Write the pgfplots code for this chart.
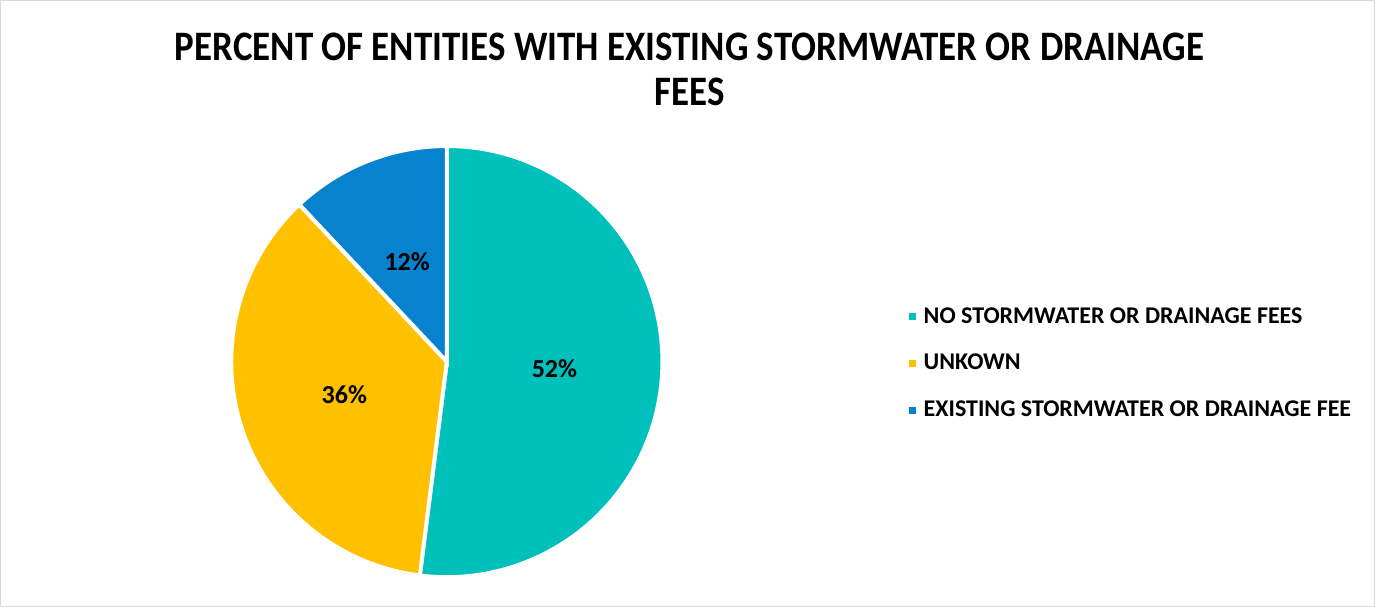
\documentclass[border=0pt]{standalone}
\usepackage{pgfplots}
\pgfplotsset{compat=1.18}
\usepackage{pgfplotstable}
\usepackage{fontspec}
\setmainfont{Carlito}
\newfontfamily\titlefont{Carlito}[FakeStretch=0.88]

\definecolor{cteal}{RGB}{0,192,187}
\definecolor{cyellow}{RGB}{255,192,0}
\definecolor{cblue}{RGB}{7,130,206}
\definecolor{frame}{RGB}{217,217,217}

\pgfplotstableread[col sep=comma]{
label,value
NO STORMWATER OR DRAINAGE FEES,52
UNKOWN,36
EXISTING STORMWATER OR DRAINAGE FEE,12
}\piedata

% slice values and angles (clockwise from 12 o'clock)
\pgfplotstablegetelem{0}{value}\of\piedata \let\va\pgfplotsretval
\pgfplotstablegetelem{1}{value}\of\piedata \let\vb\pgfplotsretval
\pgfplotstablegetelem{2}{value}\of\piedata \let\vc\pgfplotsretval
\pgfmathsetmacro\aA{90}
\pgfmathsetmacro\aB{\aA-3.6*\va}
\pgfmathsetmacro\aC{\aB-3.6*\vb}
\pgfmathsetmacro\aD{\aC-3.6*\vc}
\pgfmathsetmacro\mA{(\aA+\aB)/2}
\pgfmathsetmacro\mB{(\aB+\aC)/2}
\pgfmathsetmacro\mC{(\aC+\aD)/2}

\begin{document}
\begin{tikzpicture}
\begin{axis}[
  scale only axis, width=687.5bp, height=303.5bp,
  xmin=0, xmax=1375, ymin=0, ymax=607,
  hide axis, clip=false,
  legend style={at={(axis cs:906,243)}, anchor=west, draw=none, fill=none,
    inner sep=0pt, font=\bfseries\fontsize{12}{14}\selectfont,
    row sep=10bp, cells={anchor=west}},
  legend image code/.code={\fill[#1, draw=none] (1bp,-1.8bp) rectangle (4.6bp,1.8bp);
    \path[draw=none, fill=none] (0bp,0bp) -- (6.6bp,0bp);},
]
\path[draw=frame, line width=0.6bp] (axis cs:3,1) rectangle (axis cs:1373,605);

\fill[cteal, draw=white, line width=2bp] (axis cs:448,245) -- ++(\aA:107.5bp)
  arc[start angle=\aA, end angle=\aB, radius=107.5bp] -- cycle;
\fill[cyellow, draw=white, line width=2bp] (axis cs:448,245) -- ++(\aB:107.5bp)
  arc[start angle=\aB, end angle=\aC, radius=107.5bp] -- cycle;
\fill[cblue, draw=white, line width=2bp] (axis cs:448,245) -- ++(\aC:107.5bp)
  arc[start angle=\aC, end angle=\aD, radius=107.5bp] -- cycle;

\path (axis cs:448,245) ++(\mA:53.75bp) node[font=\bfseries\fontsize{13}{15}\selectfont]{\va\%};
\path (axis cs:448,245) ++(\mB:53.75bp) node[font=\bfseries\fontsize{13}{15}\selectfont]{\vb\%};
\path (axis cs:448,245) ++(\mC:53.75bp) node[font=\bfseries\fontsize{13}{15}\selectfont]{\vc\%};

\node[font=\titlefont\bfseries\fontsize{21}{22.5}\selectfont, align=center] at (axis cs:690,536.5)
  {PERCENT OF ENTITIES WITH EXISTING STORMWATER OR DRAINAGE\\FEES};

\addlegendimage{cteal}
\addlegendentry{NO STORMWATER OR DRAINAGE FEES}
\addlegendimage{cyellow}
\addlegendentry{UNKOWN}
\addlegendimage{cblue}
\addlegendentry{EXISTING STORMWATER OR DRAINAGE FEE}
\end{axis}
\end{tikzpicture}
\end{document}
